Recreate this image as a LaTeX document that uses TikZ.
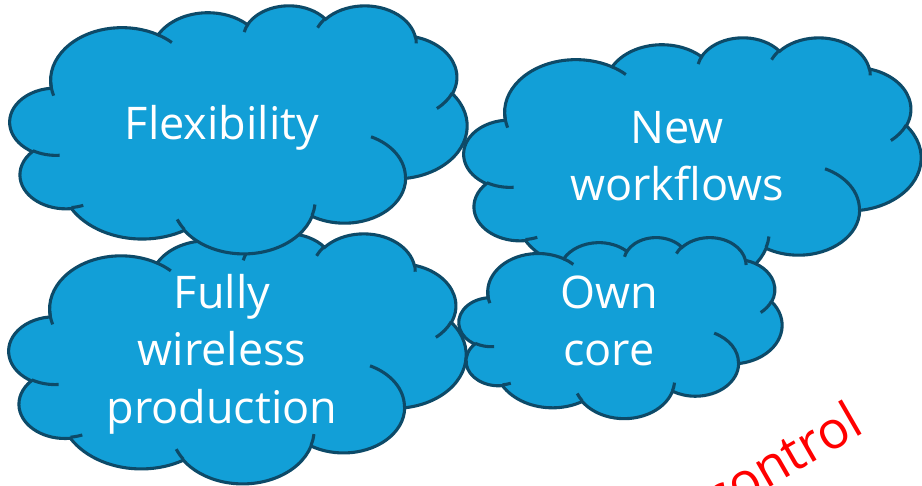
\documentclass[tikz,border=0pt]{standalone}
\usepackage{fontspec}
\setmainfont{Open Sans}
\definecolor{cloudblue}{HTML}{129FD7}
\definecolor{cloudedge}{HTML}{0D4A68}
\definecolor{notered}{HTML}{FF0000}

\tikzset{
  declare function={vis(\a,\p,\q)=atan2(\p*sin(\a),\q*cos(\a));},
  cloudarc/.style n args={4}{x radius=#1,y radius=#2,
    start angle={vis(#3,#1,#2)},
    delta angle={mod(vis(#3+#4,#1,#2)-vis(#3,#1,#2)+720,360)}},
  cloudbody/.style={fill=cloudblue,draw=cloudedge,line width=3.1pt},
  cloudcrease/.style={draw=cloudedge,line width=3.1pt},
  cloudtext/.style={text=white,align=center,inner sep=0pt,
    font=\fontsize{45}{57.5}\selectfont},
}
% cloud outline: top left corner (#1,#2), width #3, height #4
\newcommand\pptcloud[4]{%
\begin{scope}[shift={(#1,#2)},xscale=#3/100,yscale=#4/100]
  \path[cloudbody] (9.028,33.264)
    arc[cloudarc={15.632}{21.273}{-190.487}{123.781}]
    arc[cloudarc={12.345}{16.822}{-144.102}{89.945}]
    arc[cloudarc={10.104}{13.762}{-145.808}{99.723}]
    arc[cloudarc={11.243}{15.266}{-130.986}{117.242}]
    arc[cloudarc={12.345}{16.836}{-78.709}{109.027}]
    arc[cloudarc={15.683}{21.343}{-46.267}{130.269}]
    arc[cloudarc={13.391}{18.211}{0.625}{114.033}]
    arc[cloudarc={15.630}{21.331}{22.452}{115.173}]
    arc[cloudarc={17.870}{24.405}{66.243}{75.711}]
    arc[cloudarc={10.093}{13.699}{-274.942}{146.736}]
    arc[cloudarc={10.058}{13.762}{-246.829}{152.525}]
    -- cycle;
  \path[cloudcrease]
    (10.863,60.595) arc[cloudarc={10.058}{13.762}{86.742}{26.430}]
    (16.037,80.785) arc[cloudarc={10.093}{13.699}{73.610}{11.447}]
    (38.144,90.486) arc[cloudarc={15.630}{21.331}{137.624}{14.081}]
    (66.729,80.442) arc[cloudarc={15.630}{21.331}{6.453}{15.998}]
    (79.002,53.134) arc[cloudarc={13.391}{18.211}{-70.292}{70.917}]
    (96.755,35.542) arc[cloudarc={12.345}{16.836}{30.318}{27.752}]
    (88.713,12.560) arc[cloudarc={11.243}{15.266}{-13.744}{14.854}]
    (67.310,9.148) arc[cloudarc={11.243}{15.266}{-149.181}{18.188}]
    (51.252,10.926) arc[cloudarc={10.104}{13.762}{-163.494}{17.686}]
    (32.407,12.019) arc[cloudarc={15.632}{21.273}{-66.707}{12.319}]
    (9.553,36.549) arc[cloudarc={15.632}{21.273}{157.65}{24}];
\end{scope}}

\begin{document}
\begin{tikzpicture}[x=1pt,y=-1pt]
\useasboundingbox (0,0) rectangle (922,486);
% left column
\pptcloud{9}{233}{457}{250}
\node[cloudtext] (wireless) at (222,354) {Fully\\wireless\\production};
\pptcloud{10}{5}{457}{248}
\node[cloudtext,anchor=base] (flexibility) at (222,140) {Flexibility};
% right column
\pptcloud{464}{37}{457}{248}
\node[cloudtext] (workflows) at (677,156) {New\\workflows};
\pptcloud{459}{237}{323}{181}
\node[cloudtext] (owncore) at (609,321) {Own\\core};
% cut off at the border
\node[rotate=30,anchor=base east,inner sep=0pt,text=notered,
  font=\fontsize{52}{60}\selectfont] (control) at (866,432) {control};
\end{tikzpicture}
\end{document}
